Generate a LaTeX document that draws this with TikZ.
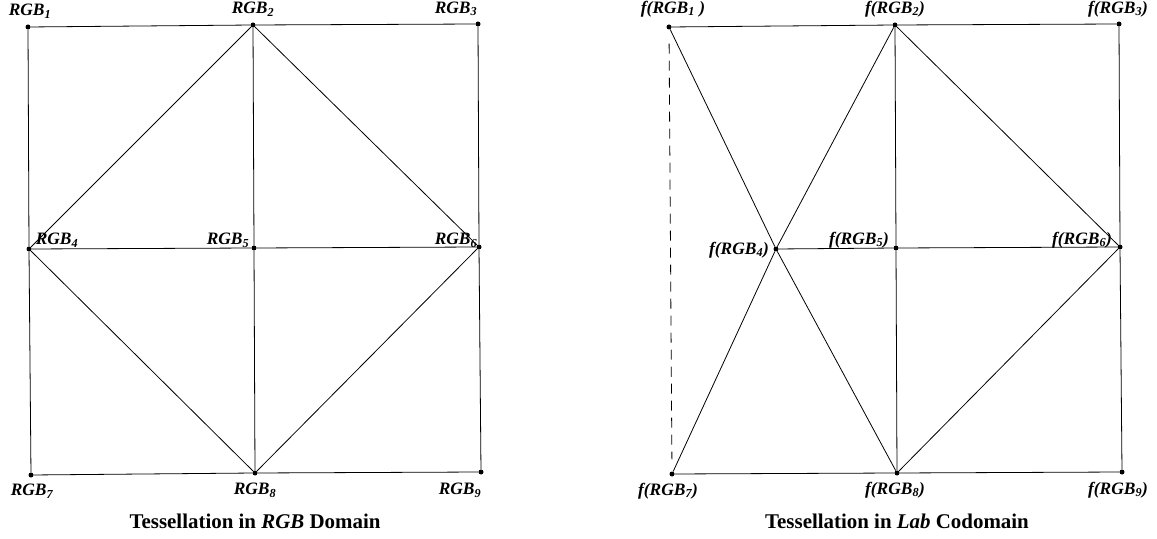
\documentclass[tikz,border=0pt]{standalone}
\usepackage{fontspec}
\setmainfont{Liberation Serif}
\begin{document}
\begin{tikzpicture}[x=1bp,y=-1bp,
  edge/.style={line width=0.8bp,black},
  dot/.style={circle,fill=black,inner sep=0pt,minimum size=5bp},
  lbl/.style={inner sep=0pt,font=\fontsize{17.5}{20}\selectfont\bfseries\itshape},
  ttl/.style={inner sep=0pt,font=\fontsize{21}{24}\selectfont\bfseries}]
\useasboundingbox (0,0) rectangle (1157,539);
% left grid
\node[dot] (a1) at (28,27) {};
\node[dot] (a2) at (253,25) {};
\node[dot] (a3) at (478,24) {};
\node[dot] (a4) at (29,249) {};
\node[dot] (a5) at (254,248) {};
\node[dot] (a6) at (479,247) {};
\node[dot] (a7) at (31,475) {};
\node[dot] (a8) at (255,473) {};
\node[dot] (a9) at (481,472) {};
\draw[edge] (a1)--(a2)--(a3)--(a6)--(a9)--(a8)--(a7)--(a4)--(a1);
\draw[edge] (a4)--(a5)--(a6);
\draw[edge] (a2)--(a5)--(a8);
\draw[edge] (a4)--(a2)--(a6)--(a8)--(a4);
\node[lbl] (la1) at (30,11) {RGB\textsubscript{1}};
\node[lbl] (la2) at (253,9) {RGB\textsubscript{2}};
\node[lbl] (la3) at (456,9) {RGB\textsubscript{3}};
\node[lbl] (la4) at (57,240) {RGB\textsubscript{4}};
\node[lbl] (la5) at (228,240) {RGB\textsubscript{5}};
\node[lbl] (la6) at (456,240) {RGB\textsubscript{6}};
\node[lbl] (la7) at (32,491) {RGB\textsubscript{7}};
\node[lbl] (la8) at (255,490) {RGB\textsubscript{8}};
\node[lbl] (la9) at (460,490) {RGB\textsubscript{9}};
\node[ttl] (ta) at (255,521) {Tessellation in \textit{RGB} Domain};
% right grid
\node[dot] (b1) at (669,27) {};
\node[dot] (b2) at (895,25) {};
\node[dot] (b3) at (1119,24) {};
\node[dot] (b4) at (776,249) {};
\node[dot] (b5) at (896,248) {};
\node[dot] (b6) at (1120,247) {};
\node[dot] (b7) at (672,474) {};
\node[dot] (b8) at (897,473) {};
\node[dot] (b9) at (1122,472) {};
\draw[edge] (b1)--(b2)--(b3)--(b6)--(b9)--(b8)--(b7);
\draw[edge,dash pattern=on 10bp off 7bp,shorten <=14bp,shorten >=12bp] (b1)--(b7);
\draw[edge] (b4)--(b5)--(b6);
\draw[edge] (b2)--(b5)--(b8);
\draw[edge] (b2)--(b6)--(b8);
\draw[edge] (b1)--(b4)--(b8);
\draw[edge] (b2)--(b4)--(b7);
\node[lbl] (lb1) at (673,9) {f(RGB\textsubscript{1} )};
\node[lbl] (lb2) at (895,9) {f(RGB\textsubscript{2})};
\node[lbl] (lb3) at (1118,9) {f(RGB\textsubscript{3})};
\node[lbl] (lb4) at (739,250) {f(RGB\textsubscript{4})};
\node[lbl] (lb5) at (859,240) {f(RGB\textsubscript{5})};
\node[lbl] (lb6) at (1082,240) {f(RGB\textsubscript{6})};
\node[lbl] (lb7) at (668,491) {f(RGB\textsubscript{7})};
\node[lbl] (lb8) at (895,490) {f(RGB\textsubscript{8})};
\node[lbl] (lb9) at (1118,490) {f(RGB\textsubscript{9})};
\node[ttl] (tb) at (897,521) {Tessellation in \textit{Lab} Codomain};
\end{tikzpicture}
\end{document}
